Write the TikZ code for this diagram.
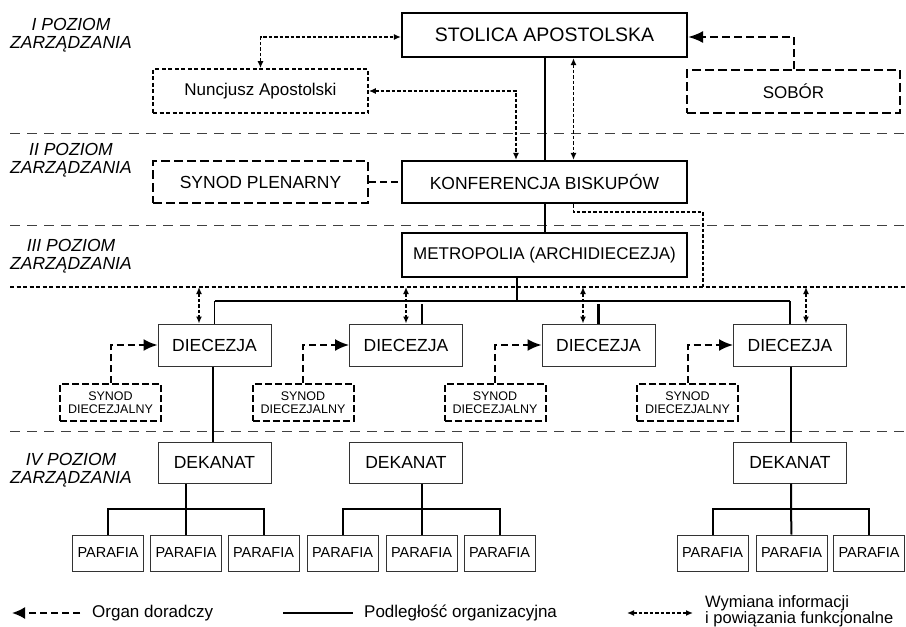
\documentclass[tikz,border=0pt]{standalone}
\usepackage{fontspec}
\setmainfont{Liberation Sans}
\usetikzlibrary{arrows.meta}
\begin{document}
\begin{tikzpicture}[x=1pt,y=-1pt,
 base/.style={inner sep=0pt, align=center, text=black},
 heavybox/.style={base, draw, line width=2.2pt, minimum width=285pt},
 plainbox/.style={base, draw=black!80, line width=1pt, minimum width=113pt, minimum height=42pt, font=\fontsize{17.5}{20}\selectfont},
 parbox/.style={base, draw=black!80, line width=1pt, minimum width=71pt, minimum height=36pt, font=\fontsize{14.5}{17}\selectfont},
 nunbox/.style={base, draw, line width=1.6pt, dash pattern=on 4pt off 2.5pt},
 dashbox/.style={base, draw, line width=1.6pt, dash pattern=on 9pt off 4pt},
 synbox/.style={base, draw, line width=2pt, dash pattern=on 7pt off 3pt, minimum width=101pt, minimum height=37pt, font=\fontsize{12.5}{12.5}\selectfont},
 levellabel/.style={font=\itshape\fontsize{17.5}{18.5}\selectfont, align=center, inner sep=0pt, text=black},
 sep/.style={draw=black!75, line width=0.9pt, dash pattern=on 10pt off 7pt},
 infoline/.style={line width=1.6pt, dash pattern=on 3.5pt off 2pt},
 info/.style={infoline, {Latex[length=7pt,width=6pt]}-{Latex[length=7pt,width=6pt]}},
 advice/.style={line width=2pt, dash pattern=on 7pt off 4pt, -{Latex[length=14pt,width=12pt]}},
 sub/.style={line width=2pt},
 legtext/.style={inner sep=0pt, anchor=west, font=\fontsize{17}{17}\selectfont, text=black, align=left}
]
\useasboundingbox (0,0) rectangle (906,627);

% level separators
\coordinate (s1L) at (10,133); \coordinate (s1R) at (906,133);
\coordinate (s2L) at (10,225); \coordinate (s2R) at (906,225);
\coordinate (s4L) at (10,431); \coordinate (s4R) at (906,431);
\coordinate (lvL) at (10,287); \coordinate (lvR) at (906,287);
\draw[sep] (s1L) -- (s1R);
\draw[sep] (s2L) -- (s2R);
\draw[sep] (s4L) -- (s4R);
\draw[line width=1.8pt, dash pattern=on 4pt off 2.5pt] (lvL) -- (lvR);

% level labels
\node[levellabel] (l1) at (71,35) {I POZIOM\\ZARZĄDZANIA};
\node[levellabel] (l2) at (71,160) {II POZIOM\\ZARZĄDZANIA};
\node[levellabel] (l3) at (71,256) {III POZIOM\\ZARZĄDZANIA};
\node[levellabel] (l4) at (71,470) {IV POZIOM\\ZARZĄDZANIA};

% level I
\node[heavybox, minimum height=44pt, font=\fontsize{19.5}{22}\selectfont] (stol) at (544.5,35) {STOLICA APOSTOLSKA};
\node[nunbox, minimum width=215pt, minimum height=44pt, font=\fontsize{17}{20}\selectfont] (nunc) at (260.5,91) {Nuncjusz Apostolski};
\node[dashbox, minimum width=213pt, minimum height=43pt, font=\fontsize{17}{20}\selectfont] (sobor) at (793.5,91.5) {SOBÓR};

% level II
\node[dashbox, minimum width=215pt, minimum height=42pt, font=\fontsize{17.5}{20}\selectfont] (synpl) at (260.5,182) {SYNOD PLENARNY};
\node[heavybox, minimum height=42pt, font=\fontsize{17.5}{20}\selectfont] (konf) at (544.5,182) {KONFERENCJA BISKUPÓW};

% level III
\node[heavybox, minimum height=44pt, font=\fontsize{17}{20}\selectfont] (metro) at (544.5,255) {METROPOLIA (ARCHIDIECEZJA)};
\node[plainbox] (d1) at (214.5,345) {DIECEZJA};
\node[plainbox] (d2) at (406,345) {DIECEZJA};
\node[plainbox] (d3) at (598.5,345) {DIECEZJA};
\node[plainbox] (d4) at (790,345) {DIECEZJA};
\node[synbox] (sd1) at (110.5,402.5) {SYNOD\\DIECEZJALNY};
\node[synbox] (sd2) at (303,402.5) {SYNOD\\DIECEZJALNY};
\node[synbox] (sd3) at (495,402.5) {SYNOD\\DIECEZJALNY};
\node[synbox] (sd4) at (687.5,402.5) {SYNOD\\DIECEZJALNY};

% level IV
\node[plainbox, minimum height=41pt] (k1) at (214.5,462.5) {DEKANAT};
\node[plainbox, minimum height=41pt] (k2) at (406,462.5) {DEKANAT};
\node[plainbox, minimum height=41pt] (k3) at (790,462.5) {DEKANAT};
\node[parbox] (p1) at (108,553) {PARAFIA};
\node[parbox] (p2) at (186,553) {PARAFIA};
\node[parbox] (p3) at (263.5,553) {PARAFIA};
\node[parbox] (p4) at (342.5,553) {PARAFIA};
\node[parbox] (p5) at (421.5,553) {PARAFIA};
\node[parbox] (p6) at (499.5,553) {PARAFIA};
\node[parbox] (p7) at (712.5,553) {PARAFIA};
\node[parbox] (p8) at (791.5,553) {PARAFIA};
\node[parbox] (p9) at (869,553) {PARAFIA};

% connectors level I-II
\draw[info] (nunc.north) |- ([yshift=-2]stol.west);
\draw[info] (nunc.east) -| ([xshift=-28.5]konf.north);
\draw[sub] (stol.south) -- (konf.north);
\draw[info] ([xshift=29]stol.south) -- ([xshift=29]konf.north);
\draw[advice, dash pattern=on 8pt off 4pt, -{Latex[length=15pt,width=12pt]}] (sobor.north) |- ([yshift=-2]stol.east);
\draw[line width=2.5pt, dash pattern=on 7pt off 4pt] (synpl.east) -- (konf.west);
\draw[sub] (konf.south) -- (metro.north);
\coordinate (kbend) at (703,212);
\draw[infoline] ([xshift=29]konf.south) |- (kbend) -- (kbend |- lvL);

% metropolia -> dioceses
\coordinate (bus) at (517,301);
\draw[sub] ([xshift=-27.5]metro.south) -- (bus);
\draw[line width=1.8pt] (d1.north |- bus) -- (d4.north |- bus);
\draw[line width=1.5pt] (d1.north |- bus) -- (d1.north);
\draw[line width=2.5pt] ([xshift=16,yshift=-3]d2.north |- bus) -- ([xshift=16]d2.north);
\draw[line width=2.5pt] ([yshift=-3]d3.north |- bus) -- (d3.north);
\draw[line width=1.5pt] (d4.north |- bus) -- (d4.north);

% information arrows from level line
\draw[info] ([xshift=-15.5]d1.north |- lvL) -- ([xshift=-15.5]d1.north);
\draw[info] (d2.north |- lvL) -- (d2.north);
\draw[info] ([xshift=-15.5]d3.north |- lvL) -- ([xshift=-15.5]d3.north);
\draw[info] ([xshift=16]d4.north |- lvL) -- ([xshift=16]d4.north);

% synods -> dioceses
\draw[advice] (sd1.north) |- (d1.west);
\draw[advice] (sd2.north) |- (d2.west);
\draw[advice] (sd3.north) |- (d3.west);
\draw[advice] (sd4.north) |- (d4.west);

% dioceses -> deaneries
\draw[line width=1.5pt] ([xshift=-1.5]d1.south) -- ([xshift=-1.5]k1.north);
\draw[line width=1.5pt] ([xshift=1]d4.south) -- ([xshift=1]k3.north);

% deaneries -> parishes
\coordinate (pb1) at (186,509);
\coordinate (pb2) at (421.5,509);
\coordinate (pb3) at (791,509);
\draw[sub] (k1.south -| pb1) -- (pb1) -- (p2.north);
\draw[sub] (p1.north) |- (pb1) -| (p3.north);
\draw[sub] (k2.south -| pb2) -- (pb2) -- (p5.north);
\draw[sub] (p4.north) |- (pb2) -| (p6.north);
\draw[sub] (k3.south -| pb3) -- (pb3) -- (p8.north);
\draw[sub] (p7.north) |- (pb3) -| (p9.north);

% legend
\coordinate (la1) at (80,613); \coordinate (la2) at (12,613);
\draw[advice, -{Latex[length=13pt,width=12pt]}] (la1) -- (la2);
\node[legtext] (lt1) at (92,613) {Organ doradczy};
\coordinate (lb1) at (283,613); \coordinate (lb2) at (353,613);
\draw[sub] (lb1) -- (lb2);
\node[legtext] (lt2) at (364,613) {Podległość organizacyjna};
\coordinate (lc1) at (627,613); \coordinate (lc2) at (693,613);
\draw[info] (lc1) -- (lc2);
\node[legtext, font=\fontsize{16.5}{16}\selectfont] (lt3) at (705,611) {Wymiana informacji\\i powiązania funkcjonalne};
\end{tikzpicture}
\end{document}
